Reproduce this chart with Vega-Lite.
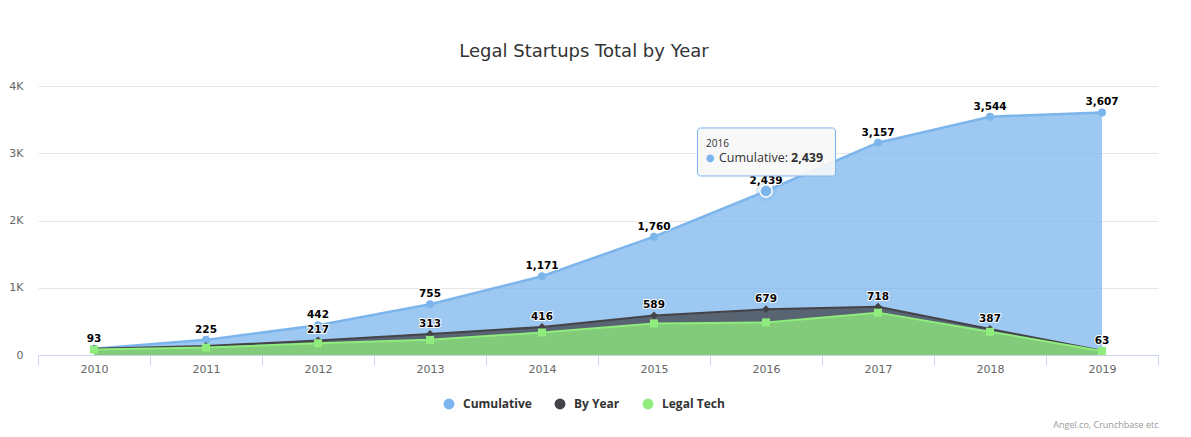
{
  "$schema": "https://vega.github.io/schema/vega-lite/v6.json",
  "width": 1120,
  "height": 269,
  "autosize": {"type": "none"},
  "padding": {"left": 38, "top": 86, "right": 33, "bottom": 82},
  "background": "white",
  "config": {"view": {"stroke": null}, "font": "DejaVu Sans"},
  "title": {"text": "Legal Startups Total by Year", "fontSize": 18, "font": "DejaVu Sans", "fontWeight": "normal", "color": "#333333", "anchor": "middle", "offset": 19, "dx": -14},
  "data": {"values": [
    {"year": 2010, "series": "Cumulative", "value": 93},
    {"year": 2011, "series": "Cumulative", "value": 225},
    {"year": 2012, "series": "Cumulative", "value": 442},
    {"year": 2013, "series": "Cumulative", "value": 755},
    {"year": 2014, "series": "Cumulative", "value": 1171},
    {"year": 2015, "series": "Cumulative", "value": 1760},
    {"year": 2016, "series": "Cumulative", "value": 2439},
    {"year": 2017, "series": "Cumulative", "value": 3157},
    {"year": 2018, "series": "Cumulative", "value": 3544},
    {"year": 2019, "series": "Cumulative", "value": 3607},
    {"year": 2010, "series": "By Year", "value": 93},
    {"year": 2011, "series": "By Year", "value": 132},
    {"year": 2012, "series": "By Year", "value": 217},
    {"year": 2013, "series": "By Year", "value": 313},
    {"year": 2014, "series": "By Year", "value": 416},
    {"year": 2015, "series": "By Year", "value": 589},
    {"year": 2016, "series": "By Year", "value": 679},
    {"year": 2017, "series": "By Year", "value": 718},
    {"year": 2018, "series": "By Year", "value": 387},
    {"year": 2019, "series": "By Year", "value": 63},
    {"year": 2010, "series": "Legal Tech", "value": 80},
    {"year": 2011, "series": "Legal Tech", "value": 110},
    {"year": 2012, "series": "Legal Tech", "value": 175},
    {"year": 2013, "series": "Legal Tech", "value": 225},
    {"year": 2014, "series": "Legal Tech", "value": 335},
    {"year": 2015, "series": "Legal Tech", "value": 470},
    {"year": 2016, "series": "Legal Tech", "value": 485},
    {"year": 2017, "series": "Legal Tech", "value": 630},
    {"year": 2018, "series": "Legal Tech", "value": 345},
    {"year": 2019, "series": "Legal Tech", "value": 60}
  ]},
  "encoding": {
    "x": {"field": "year", "type": "ordinal", "scale": {"type": "band", "paddingInner": 0, "paddingOuter": 0},
      "axis": {"title": "Angel.co, Crunchbase etc", "titleAnchor": "end", "titleAlign": "right", "titleFontSize": 9, "titleColor": "#999999", "titleFontWeight": "normal", "titleFont": "Open Sans", "titlePadding": 46,
        "labelAngle": 0, "labelColor": "#666666", "labelFontSize": 11, "labelFont": "DejaVu Sans", "domainColor": "#ccd6eb", "tickColor": "#ccd6eb", "tickSize": 10, "tickBand": "extent", "labelPadding": -2, "grid": false}},
    "y": {"field": "value", "type": "quantitative", "scale": {"domain": [0, 4000]},
      "axis": {"title": null, "values": [0, 1000, 2000, 3000, 4000], "labelExpr": "datum.value == 0 ? '0' : (datum.value/1000) + 'K'", "domain": false, "ticks": false, "gridColor": "#e6e6e6", "labelColor": "#666666", "labelFontSize": 11, "labelFont": "DejaVu Sans", "labelPadding": 15}},
    "color": {"field": "series", "type": "nominal",
      "scale": {"domain": ["Cumulative", "By Year", "Legal Tech"], "range": ["#7cb5ec", "#434348", "#90ed7d"]},
      "legend": {"title": null, "orient": "none", "legendX": 405, "legendY": 312, "direction": "horizontal", "symbolType": "circle", "symbolSize": 120, "symbolOpacity": 1, "symbolStrokeWidth": 0, "labelFont": "Open Sans", "labelFontWeight": "bold", "labelFontSize": 12, "labelColor": "#333333", "columnPadding": 22, "labelOffset": 8,
        "encode": {"symbols": {"update": {"fill": {"scale": "color", "field": "value"}, "fillOpacity": {"value": 1}, "strokeWidth": {"value": 0}, "shape": {"value": "circle"}}}}}
    }
  },
  "layer": [
    {"transform": [{"filter": "datum.series === 'Cumulative'"}], "mark": {"type": "area", "fillOpacity": 0.75}},
    {"transform": [{"filter": "datum.series === 'Cumulative'"}], "mark": {"type": "line", "strokeWidth": 2.5}},
    {"transform": [{"filter": "datum.series === 'By Year'"}], "mark": {"type": "area", "fillOpacity": 0.75}},
    {"transform": [{"filter": "datum.series === 'By Year'"}], "mark": {"type": "line", "strokeWidth": 2}},
    {"transform": [{"filter": "datum.series === 'Legal Tech'"}], "mark": {"type": "area", "fillOpacity": 0.75}},
    {"transform": [{"filter": "datum.series === 'Legal Tech'"}], "mark": {"type": "line", "strokeWidth": 2}},
    {"transform": [{"filter": "datum.series === 'Cumulative'"}], "mark": {"type": "point", "shape": "circle", "filled": true, "opacity": 1, "size": 64, "strokeWidth": 0}},
    {"transform": [{"filter": "datum.series === 'By Year'"}], "mark": {"type": "point", "shape": "diamond", "filled": true, "opacity": 1, "size": 64, "strokeWidth": 0}},
    {"transform": [{"filter": "datum.series === 'Legal Tech'"}], "mark": {"type": "point", "shape": "square", "filled": true, "opacity": 1, "size": 64, "strokeWidth": 0}},
    {"transform": [{"filter": "datum.series === 'Cumulative' && datum.year === 2016"}], "mark": {"type": "point", "shape": "circle", "filled": true, "opacity": 0.25, "size": 420, "strokeWidth": 0}},
    {"transform": [{"filter": "datum.series === 'Cumulative' && datum.year === 2016"}], "mark": {"type": "point", "shape": "circle", "filled": true, "opacity": 1, "size": 150, "stroke": "white", "strokeWidth": 1.5}},
    {"transform": [{"filter": "datum.series === 'Cumulative' || (datum.series === 'By Year' && datum.year >= 2012)"}],
      "mark": {"type": "text", "baseline": "alphabetic", "dy": -7, "font": "DejaVu Sans", "fontWeight": "bold", "fontSize": 10.5, "stroke": "white", "strokeWidth": 2, "strokeJoin": "round"},
      "encoding": {"text": {"field": "value", "type": "quantitative", "format": ","}, "color": {"value": "white"}}},
    {"transform": [{"filter": "datum.series === 'Cumulative' || (datum.series === 'By Year' && datum.year >= 2012)"}],
      "mark": {"type": "text", "baseline": "alphabetic", "dy": -7, "font": "DejaVu Sans", "fontWeight": "bold", "fontSize": 10.5},
      "encoding": {"text": {"field": "value", "type": "quantitative", "format": ","}, "color": {"value": "#000000"}}},
    {"transform": [{"filter": "datum.series === 'Cumulative' && datum.year === 2016"}],
      "mark": {"type": "rect", "width": 138, "height": 48, "xOffset": 0.5, "yOffset": -39, "fillOpacity": 0.9, "stroke": "#7cb5ec", "strokeWidth": 1, "cornerRadius": 3},
      "encoding": {"color": {"value": "#f7f7f7"}}},
    {"transform": [{"filter": "datum.series === 'Cumulative' && datum.year === 2016"}],
      "mark": {"type": "text", "align": "left", "baseline": "middle", "dx": -60, "dy": -47, "fontSize": 10, "font": "Open Sans"},
      "encoding": {"text": {"field": "year", "type": "ordinal"}, "color": {"value": "#333333"}}},
    {"transform": [{"filter": "datum.series === 'Cumulative' && datum.year === 2016"}],
      "mark": {"type": "text", "align": "center", "baseline": "middle", "dx": -56, "dy": -33, "fontSize": 10, "text": "●"},
      "encoding": {"color": {"value": "#7cb5ec"}}},
    {"transform": [{"filter": "datum.series === 'Cumulative' && datum.year === 2016"}],
      "mark": {"type": "text", "align": "left", "baseline": "middle", "dx": -47, "dy": -33, "fontSize": 12.5, "font": "Open Sans", "text": "Cumulative:"},
      "encoding": {"color": {"value": "#333333"}}},
    {"transform": [{"filter": "datum.series === 'Cumulative' && datum.year === 2016"}],
      "mark": {"type": "text", "align": "left", "baseline": "middle", "dx": 25, "dy": -33, "fontSize": 12.5, "font": "Open Sans", "fontWeight": "bold"},
      "encoding": {"text": {"field": "value", "type": "quantitative", "format": ","}, "color": {"value": "#333333"}}}
  ]
}
